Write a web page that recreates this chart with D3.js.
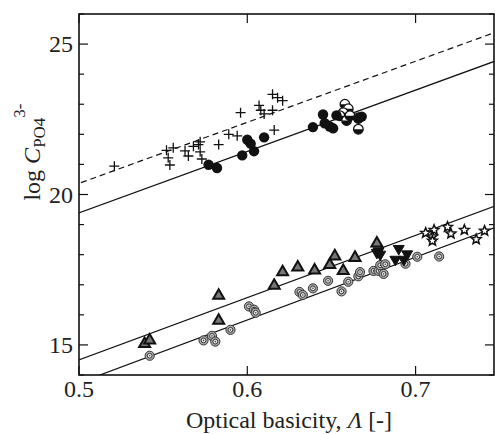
<!DOCTYPE html>
<html>
<head>
<meta charset="utf-8">
<script src="https://cdn.jsdelivr.net/npm/d3@7"></script>
<style>
  body { margin: 0; background: #fff; }
  svg { display: block; }
  text { font-family: "Liberation Serif", "Times New Roman", serif; fill: #222; }
</style>
</head>
<body>
<div id="chart"></div>
<script>
// chart size
var width = 495, height = 434;
var margin = {top: 14, right: 1, bottom: 59, left: 79};

// ---- data: [optical basicity, log C]
var crossPts = [[0.521,20.94],[0.552,21.47],[0.553,21.22],[0.554,20.98],[0.556,21.55],[0.563,21.45],
  [0.565,21.28],[0.568,21.6],[0.571,21.66],[0.572,21.75],[0.572,21.42],[0.573,21.18],[0.583,21.66],
  [0.589,22.0],[0.594,21.95],[0.596,22.72],[0.607,22.96],[0.608,22.8],[0.61,22.68],[0.615,22.8],
  [0.616,22.14],[0.615,23.33],[0.618,23.22],[0.621,23.12]];
var dotPts = [[0.577,20.99],[0.582,20.88],[0.597,21.3],[0.600,21.82],[0.602,21.69],[0.604,21.44],
  [0.610,21.9],[0.639,22.24],[0.645,22.66],[0.646,22.37],[0.649,22.26],[0.651,22.2],[0.653,22.63],
  [0.668,22.59],[0.666,22.52]];
var halfPts = [[0.658,23.0],[0.660,22.85],[0.657,22.72],[0.655,22.62],[0.659,22.46],[0.661,22.62],
  [0.666,22.55],[0.666,22.17]];
var triUpPts = [[0.539,15.06],[0.542,15.17],[0.583,16.66],[0.583,15.83],[0.616,16.99],[0.621,17.44],
  [0.630,17.6],[0.640,17.5],[0.649,17.68],[0.652,17.97],[0.657,17.48],[0.664,17.92],[0.677,18.4]];
var triDownPts = [[0.677,18.05],[0.678,18.1],[0.679,17.99],[0.690,18.18],[0.688,17.82],[0.693,17.82],
  [0.695,18.0]];
var starPts = [[0.706,18.72],[0.711,18.82],[0.710,18.6],[0.710,18.46],[0.719,18.92],[0.721,18.7],
  [0.729,18.82],[0.736,18.51],[0.741,18.79]];
var ringPts = [[0.542,14.64],[0.574,15.15],[0.579,15.3],[0.581,15.11],[0.590,15.5],[0.601,16.28],
  [0.604,16.17],[0.605,16.07],[0.631,16.76],[0.633,16.66],[0.639,16.88],[0.648,17.13],[0.656,16.78],
  [0.660,17.1],[0.666,17.28],[0.667,17.42],[0.675,17.46],[0.678,17.46],[0.681,17.36],[0.679,17.65],
  [0.682,17.68],[0.694,17.7],[0.701,17.93],[0.714,17.94]];

// fitted lines: value at 0.5 and slope
var lineIntercepts = [20.37, 19.39, 14.50, 13.74];
var lineSlopes = [20.3, 20.4, 20.7, 20.9];
var lineDashed = [true, false, false, false];

var xTicks = [0.5, 0.6, 0.7];
var yTicks = [15, 20, 25];
var yMinor = [14, 16, 17, 18, 19, 21, 22, 23, 24, 26];

var svg = d3.select("#chart").append("svg")
  .attr("width", width).attr("height", height);

var x = d3.scaleLinear().domain([0.5, 0.7466]).range([margin.left, width - margin.right]);
var y = d3.scaleLinear().domain([14, 26]).range([height - margin.bottom, margin.top]);

svg.append("clipPath").attr("id", "clip")
  .append("rect")
  .attr("x", x.range()[0]).attr("y", y.range()[1])
  .attr("width", x.range()[1] - x.range()[0])
  .attr("height", y.range()[0] - y.range()[1]);

var plot = svg.append("g").attr("clip-path", "url(#clip)");

// regression lines
lineIntercepts.forEach(function(a, i) {
  var x0 = 0.49, x1 = 0.76;
  plot.append("line")
    .attr("x1", x(x0)).attr("y1", y(a + lineSlopes[i] * (x0 - 0.5)))
    .attr("x2", x(x1)).attr("y2", y(a + lineSlopes[i] * (x1 - 0.5)))
    .attr("stroke", "#111")
    .attr("stroke-width", 1.2)
    .attr("stroke-dasharray", lineDashed[i] ? "6,4" : null);
});

// markers
function tri(s, up) {
  var h = s * 0.866, d = up ? 1 : -1;
  return "M0," + (-d * h * 0.6) + "L" + (s / 2) + "," + (d * h * 0.4) + "L" + (-s / 2) + "," + (d * h * 0.4) + "Z";
}
function star(ro, ri) {
  var p = [];
  for (var k = 0; k < 10; k++) {
    var r = k % 2 ? ri : ro, a = -Math.PI / 2 + k * Math.PI / 5;
    p.push([r * Math.cos(a), r * Math.sin(a)]);
  }
  return "M" + p.join("L") + "Z";
}
function place(sel) {
  return sel.attr("transform", function(d) { return "translate(" + x(d[0]) + "," + y(d[1]) + ")"; });
}

place(plot.selectAll(".ring").data(ringPts).enter().append("g")).each(function() {
  var g = d3.select(this);
  g.append("circle").attr("r", 4.6).attr("fill", "#aaa").attr("stroke", "#333").attr("stroke-width", 1);
  g.append("circle").attr("r", 2.4).attr("fill", "#eee").attr("stroke", "#333").attr("stroke-width", 1);
  g.append("circle").attr("r", 0.8).attr("fill", "#444");
});

place(plot.selectAll(".tu").data(triUpPts).enter().append("path"))
  .attr("d", tri(11, true)).attr("fill", "#777").attr("stroke", "#111").attr("stroke-width", 2);

place(plot.selectAll(".td").data(triDownPts).enter().append("path"))
  .attr("d", tri(11, false)).attr("fill", "#111").attr("stroke", "#111").attr("stroke-width", 1);

place(plot.selectAll(".st").data(starPts).enter().append("path"))
  .attr("d", star(5.2, 2.3)).attr("fill", "#fff").attr("stroke", "#111").attr("stroke-width", 1.5);

place(plot.selectAll(".cr").data(crossPts).enter().append("path"))
  .attr("d", "M-5,0H5M0,-5V5").attr("stroke", "#111").attr("stroke-width", 1.3).attr("fill", "none");

place(plot.selectAll(".hf").data(halfPts).enter().append("g")).each(function() {
  var g = d3.select(this);
  g.append("circle").attr("r", 4.8).attr("fill", "#fff").attr("stroke", "#111").attr("stroke-width", 1.3);
  g.append("path").attr("d", "M-4.8,0A4.8,4.8 0 0 0 4.8,0Z").attr("fill", "#111");
});

place(plot.selectAll(".dt").data(dotPts).enter().append("circle"))
  .attr("r", 5.2).attr("fill", "#111");

// frame and ticks
var x0p = x.range()[0], x1p = x.range()[1], y0p = y.range()[0], y1p = y.range()[1];
svg.append("rect")
  .attr("x", x0p).attr("y", y1p).attr("width", x1p - x0p).attr("height", y0p - y1p)
  .attr("fill", "none").attr("stroke", "#111").attr("stroke-width", 1.6);

var ticks = svg.append("g").attr("stroke", "#111").attr("stroke-width", 1.2);
yTicks.forEach(function(v) {
  ticks.append("line").attr("x1", x0p).attr("x2", x0p + 9).attr("y1", y(v)).attr("y2", y(v));
  ticks.append("line").attr("x1", x1p).attr("x2", x1p - 9).attr("y1", y(v)).attr("y2", y(v));
});
yMinor.forEach(function(v) {
  ticks.append("line").attr("x1", x0p).attr("x2", x0p + 5).attr("y1", y(v)).attr("y2", y(v));
  ticks.append("line").attr("x1", x1p).attr("x2", x1p - 5).attr("y1", y(v)).attr("y2", y(v));
});
xTicks.forEach(function(v) {
  ticks.append("line").attr("x1", x(v)).attr("x2", x(v)).attr("y1", y0p).attr("y2", y0p - 9);
  ticks.append("line").attr("x1", x(v)).attr("x2", x(v)).attr("y1", y1p).attr("y2", y1p + 9);
});

// tick labels
svg.selectAll(".yl").data(yTicks).enter().append("text")
  .attr("x", x0p - 6).attr("y", function(d) { return y(d) + 8; })
  .attr("text-anchor", "end").style("font-size", "24px")
  .text(function(d) { return d; });

svg.selectAll(".xl").data(xTicks).enter().append("text")
  .attr("x", function(d) { return x(d); }).attr("y", y0p + 22)
  .attr("text-anchor", "middle").style("font-size", "24px")
  .text(function(d) { return d.toFixed(1); });

// axis titles
var xt = svg.append("text")
  .attr("x", 289).attr("y", 428)
  .attr("text-anchor", "middle").style("font-size", "24px");
xt.append("tspan").text("Optical basicity, ");
xt.append("tspan").style("font-style", "italic").text("Λ");
xt.append("tspan").text(" [-]");

var yt = svg.append("text")
  .attr("transform", "translate(40,152) rotate(-90)")
  .attr("text-anchor", "middle").style("font-size", "24px");
yt.append("tspan").text("log ");
yt.append("tspan").style("font-style", "italic").text("C");
yt.append("tspan").attr("dy", 5).style("font-size", "17px").text("PO4");
yt.append("tspan").attr("dy", -20).style("font-size", "17px").text("3-");
</script>
</body>
</html>
